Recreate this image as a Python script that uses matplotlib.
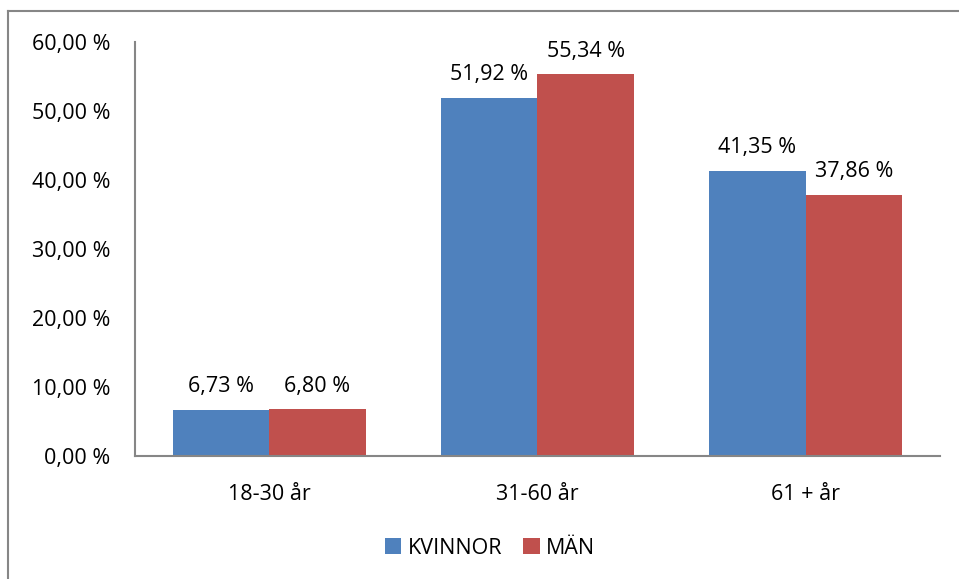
import matplotlib
matplotlib.use("Agg")
import matplotlib.pyplot as plt
from matplotlib.lines import Line2D
import numpy as np

categories = ["18-30 år", "31-60 år", "61 + år"]
kvinnor = [6.73, 51.92, 41.35]
man = [6.80, 55.34, 37.86]
series_names = ["KVINNOR", "MÄN"]
yticks = [0, 10, 20, 30, 40, 50, 60]

def fmt(v):
    return f"{v:.2f}".replace(".", ",") + " %"

plt.rcParams['font.family'] = ['Open Sans', 'DejaVu Sans']
FS = 15.5
fig = plt.figure(figsize=(9.59, 5.79), dpi=100)
ax = fig.add_axes([135/959, 1-456/579, (940-135)/959, (456-42)/579])

x = np.arange(len(categories))
w = 0.36
blue = "#4F81BD"
red = "#C0504D"
b1 = ax.bar(x - w/2, kvinnor, w, color=blue, label=series_names[0])
b2 = ax.bar(x + w/2, man, w, color=red, label=series_names[1])
for bars, vals in ((b1, kvinnor), (b2, man)):
    for r, v in zip(bars, vals):
        ax.annotate(fmt(v), (r.get_x() + r.get_width()/2, v), xytext=(0, 9),
                    textcoords="offset points", ha="center", va="bottom", fontsize=FS)

ax.set_xlim(-0.5, 2.5)
ax.set_ylim(0, 60)
ax.set_yticks(yticks)
ax.set_yticklabels([fmt(t) for t in yticks], fontsize=FS)
ax.set_xticks(x)
ax.set_xticklabels(categories, fontsize=FS)
ax.tick_params(axis="y", length=0, pad=18)
ax.tick_params(axis="x", length=0, pad=20)
for s in ("top", "right"):
    ax.spines[s].set_visible(False)
for s in ("left", "bottom"):
    ax.spines[s].set_color("#868686")
    ax.spines[s].set_linewidth(1.5)

fig.legend(handles=[b1, b2], loc="center", bbox_to_anchor=(490/959, 1-548/579), ncol=2,
           frameon=False, fontsize=FS, handlelength=0.75, handleheight=0.75,
           handletextpad=0.3, columnspacing=1.0)

fig.add_artist(Line2D([8/959, 8/959], [0, 1-11/579], transform=fig.transFigure, color="#868686", lw=1.5))
fig.add_artist(Line2D([8/959, 1], [1-11/579, 1-11/579], transform=fig.transFigure, color="#868686", lw=1.5))

fig.savefig("out.png", dpi=100)
